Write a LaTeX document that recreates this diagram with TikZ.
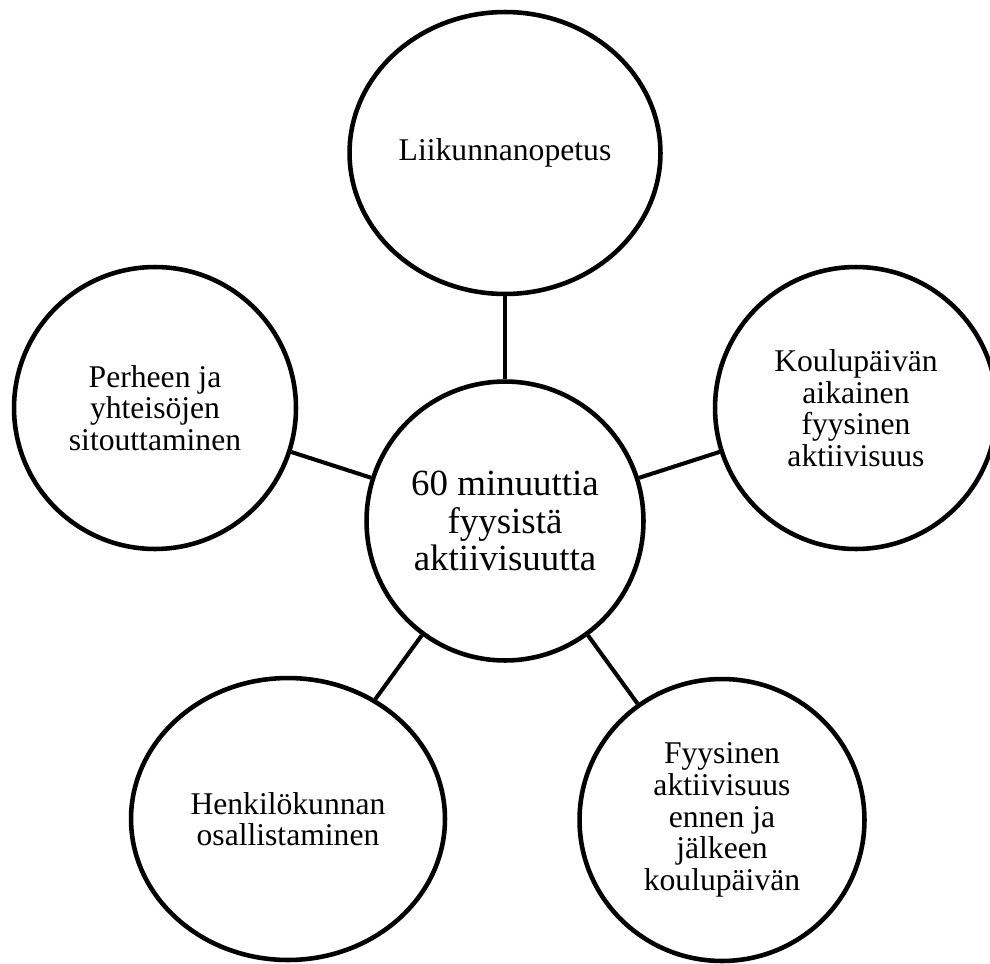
\documentclass[tikz,border=0pt]{standalone}
\usepackage{fontspec}
\setmainfont{Liberation Serif}
\usetikzlibrary{shapes.geometric}

\begin{document}
\begin{tikzpicture}
    [x=0.02cm, y=-0.02cm,
     topic/.style={draw, ellipse, line width=2.6pt, inner sep=0pt, align=center,
                   font=\fontsize{18}{18}\selectfont,
                   minimum width=5.64cm, minimum height=5.64cm},
     hub/.style={topic, font=\fontsize{21}{21.5}\selectfont,
                 minimum width=5.54cm, minimum height=5.58cm},
     link/.style={draw, line width=2.3pt}]

    \useasboundingbox (0,0) rectangle (990,963);

    \node[hub] (hub) at (505,521) {60 minuuttia\\fyysistä\\aktiivisuutta};
    \node[topic, minimum width=6.22cm] (lessons) at (505,153) {Liikunnanopetus};
    \node[topic] (schoolday) at (856,408) {Koulupäivän\\aikainen\\fyysinen\\aktiivisuus};
    \node[topic, minimum width=5.70cm] (beforeafter) at (722,820) {Fyysinen\\aktiivisuus\\ennen ja\\jälkeen\\koulupäivän};
    \node[topic, minimum width=6.28cm] (staff) at (288,819) {Henkilökunnan\\osallistaminen};
    \node[topic] (family) at (155,408) {Perheen ja\\yhteisöjen\\sitouttaminen};

    \foreach \n in {lessons, schoolday, beforeafter, staff, family}
        \draw[link] (hub) -- (\n);
\end{tikzpicture}
\end{document}
